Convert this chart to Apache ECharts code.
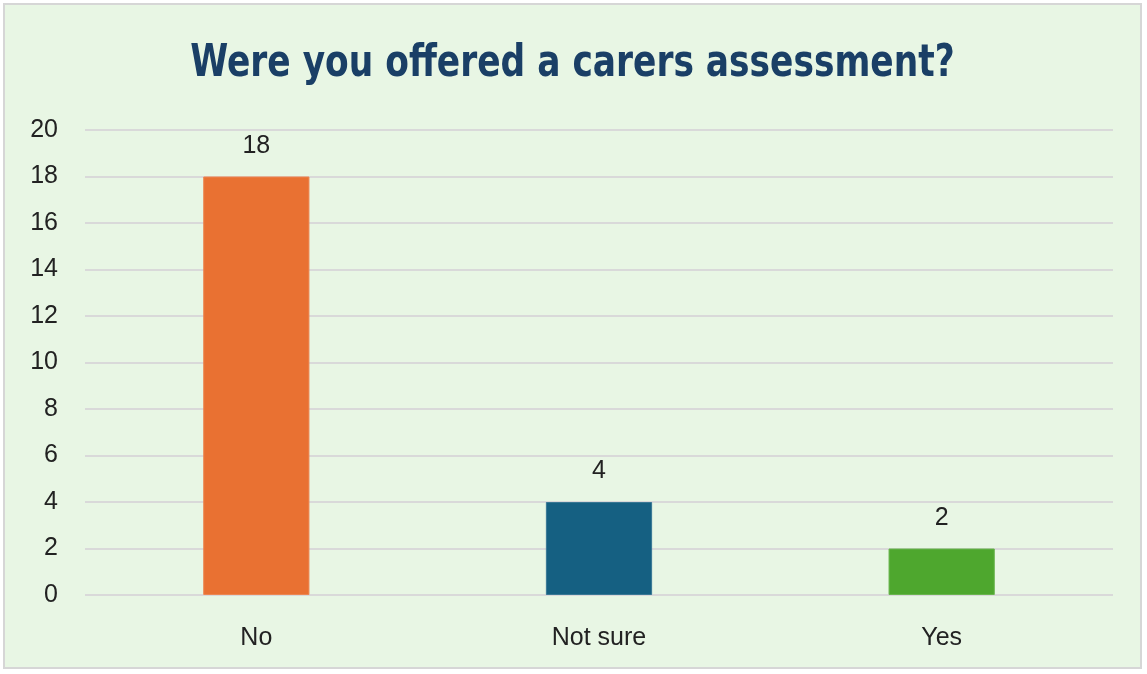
<!DOCTYPE html>
<html>
<head>
<meta charset="utf-8">
<script src="https://cdn.jsdelivr.net/npm/echarts@6/dist/echarts.min.js"></script>
<style>
  html, body { margin: 0; padding: 0; background: #ffffff; }
  #chart { position: absolute; left: 3px; top: 3px; width: 1139px; height: 666px;
           border: 2px solid #d6d6d6; box-sizing: border-box; background: #e8f6e4; }
</style>
</head>
<body>
<div id="chart"></div>
<script>
// Survey responses: "Were you offered a carers assessment?"
const titleText = 'Were you offered a carers assessment?';
const categories = ['No', 'Not sure', 'Yes'];
const counts = [18, 4, 2];
const barColors = ['#e97132', '#156082', '#4ea72e'];
const yTicks = { min: 0, max: 20, interval: 2 };

const el = document.getElementById('chart');
const chart = echarts.init(el, null, { renderer: 'canvas' });
const labelFont = '"Liberation Sans", Arial, sans-serif';

chart.setOption({
  backgroundColor: '#e8f6e4',
  animation: false,
  // Condensed bold heading, drawn as a horizontally narrowed text element
  graphic: [{
    type: 'text',
    x: el.clientWidth / 2,
    y: 60,
    scaleX: 0.87,
    style: {
      text: titleText,
      fill: '#1a3f66',
      font: 'bold 44px "DejaVu Sans Condensed", "DejaVu Sans", sans-serif',
      textAlign: 'center',
      textVerticalAlign: 'middle'
    }
  }],
  grid: { left: 80, right: 27, top: 125, bottom: 72, containLabel: false },
  xAxis: {
    type: 'category',
    data: categories,
    axisLine: { show: false },
    axisTick: { show: false },
    axisLabel: { margin: 31, fontFamily: labelFont, fontSize: 25, color: '#222222' }
  },
  yAxis: {
    type: 'value',
    min: yTicks.min,
    max: yTicks.max,
    interval: yTicks.interval,
    axisLine: { show: false },
    axisTick: { show: false },
    splitLine: { lineStyle: { color: '#d9d9d9', width: 2 } },
    axisLabel: { margin: 27, fontFamily: labelFont, fontSize: 25, color: '#222222' }
  },
  series: [{
    type: 'bar',
    data: counts.map((v, i) => ({
      value: v,
      itemStyle: { color: barColors[i], borderColor: echarts.color.lift(barColors[i], 0.15), borderWidth: 1 }
    })),
    barWidth: '31%',
    label: { show: true, position: 'top', distance: 18, fontFamily: labelFont, fontSize: 25, color: '#222222' }
  }]
});
</script>
</body>
</html>
